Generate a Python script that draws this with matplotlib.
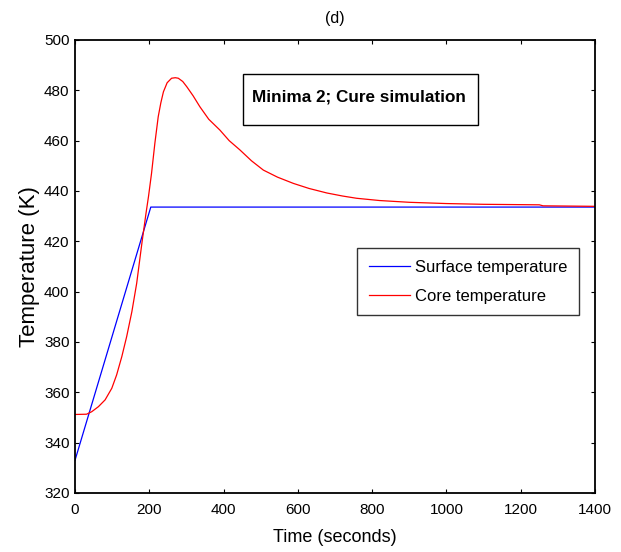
import matplotlib.pyplot as plt

plt.rcParams['font.family'] = ['Liberation Sans', 'DejaVu Sans']

# surface temperature (blue)
t_surface = [0, 204, 1400]
T_surface = [333.0, 433.6, 433.6]

# core temperature (red)
t_core = [0, 31, 45, 63, 81, 99, 112, 126, 139, 153, 166, 180, 191, 198, 206, 215,
          224, 231, 238, 248, 260, 270, 278, 290, 301, 318, 336, 360, 390, 415, 444,
          475, 507, 545, 588, 630, 678, 720, 758, 820, 900, 1000, 1100, 1250, 1260, 1400]
T_core = [351.2, 351.3, 352.3, 354.3, 357.0, 361.6, 366.9, 374.2, 382.1, 392.0, 403.3, 419.2, 431.0,
          438.0, 447.0, 459.0, 469.5, 475.0, 479.4, 483.0, 484.8, 485.0, 484.8, 483.5, 481.4, 477.8,
          473.5, 468.5, 464.2, 460.0, 456.3, 452.0, 448.3, 445.5, 443.0, 441.0, 439.2, 438.0,
          437.1, 436.2, 435.5, 435.0, 434.7, 434.5, 434.1, 433.9]

fig = plt.figure(figsize=(6.21, 5.52), dpi=100)
ax = fig.add_axes([0.1208, 0.1069, 0.8374, 0.8207])

ax.plot(t_surface, T_surface, color='#0000ff', lw=0.9, label='Surface temperature')
ax.plot(t_core, T_core, color='#ff0000', lw=0.9, label='Core temperature')

ax.set_xlim(0, 1400)
ax.set_ylim(320, 500)
ax.set_xticks(range(0, 1401, 200))
ax.set_yticks(range(320, 501, 20))
ax.tick_params(direction='in', top=True, right=True, labelsize=11, length=3)
ax.tick_params(axis='x', pad=7)
ax.tick_params(axis='y', pad=4)
for s in ax.spines.values():
    s.set_linewidth(1.3)

ax.set_xlabel('Time (seconds)', fontsize=13, labelpad=9)
ax.set_ylabel('Temperature (K)', fontsize=16, labelpad=3)
ax.set_title('(d)', fontsize=11.5, pad=12)

# annotation box
ax.text(0.340, 0.864, 'Minima 2; Cure simulation', transform=ax.transAxes,
        fontsize=12.3, fontweight='bold', va='baseline', ha='left')
ax.add_patch(plt.Rectangle((0.323, 0.812), 0.452, 0.113, transform=ax.transAxes,
                           fill=False, lw=1.0, ec='black'))

leg = ax.legend(loc='upper left', bbox_to_anchor=(0.5423, 0.5408), fontsize=12,
                frameon=True, fancybox=False, handlelength=2.5, handletextpad=0.3,
                borderpad=0.7, labelspacing=0.84, borderaxespad=0)
leg.get_frame().set_edgecolor('black')
leg.get_frame().set_linewidth(1.0)

fig.savefig('out.png', dpi=100)
